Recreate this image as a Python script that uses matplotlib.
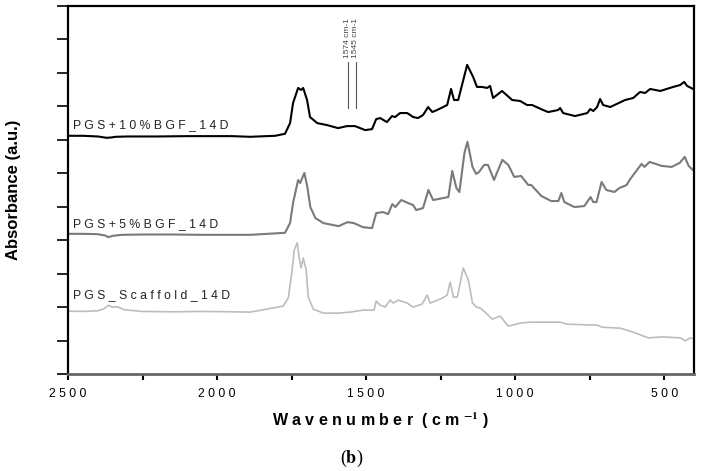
import numpy as np
import matplotlib
matplotlib.use("Agg")
import matplotlib.pyplot as plt

plt.rcParams['font.family'] = ['Liberation Sans', 'DejaVu Sans']
plt.rcParams['mathtext.fontset'] = 'stix'

# =====================================================
# DATA (offsets included)
# =====================================================

wn_10 = [2500, 2450, 2400, 2370, 2355, 2340, 2300, 2200, 2100, 2000, 1950, 1889,
         1805, 1772, 1755, 1745, 1728, 1718, 1711, 1698, 1688, 1664, 1631, 1594,
         1564, 1537, 1503, 1480, 1466, 1453, 1430, 1413, 1403, 1386, 1362, 1342,
         1326, 1309, 1292, 1278, 1262, 1228, 1215, 1205, 1191, 1161, 1141, 1128,
         1111, 1094, 1084, 1074, 1044, 1010, 983, 960, 943, 906, 889, 856, 849,
         839, 799, 758, 748, 738, 725, 715, 705, 681, 631, 604, 581, 564, 547,
         513, 470, 446, 433, 423, 403]
abs_10 = [7.12, 7.12, 7.10, 7.06, 7.07, 7.09, 7.10, 7.10, 7.11, 7.11, 7.11, 7.09,
          7.12, 7.18, 7.50, 8.10, 8.55, 8.49, 8.55, 8.19, 7.68, 7.50, 7.44, 7.35,
          7.41, 7.41, 7.29, 7.32, 7.62, 7.65, 7.53, 7.71, 7.68, 7.80, 7.80, 7.68,
          7.65, 7.74, 7.98, 7.83, 7.89, 8.04, 8.52, 8.19, 8.19, 9.24, 8.88, 8.58,
          8.58, 8.55, 8.61, 8.25, 8.46, 8.19, 8.16, 8.04, 8.04, 7.89, 7.83, 7.89, 7.95,
          7.80, 7.71, 7.80, 7.92, 7.86, 7.98, 8.22, 8.04, 7.98, 8.19, 8.25, 8.43, 8.40, 8.52,
          8.46, 8.58, 8.64, 8.73, 8.61, 8.52]

wn_5 = [2500, 2450, 2400, 2375, 2365, 2350, 2320, 2250, 2150, 2050, 1950, 1889,
        1772, 1755, 1745, 1728, 1721, 1707, 1697, 1687, 1670, 1643, 1592, 1562,
        1541, 1511, 1480, 1466, 1443, 1426, 1412, 1402, 1382, 1359, 1342, 1332,
        1309, 1291, 1275, 1241, 1224, 1211, 1197, 1187, 1170, 1160, 1143, 1131,
        1121, 1104, 1091, 1071, 1043, 1023, 1003, 980, 956, 946, 912, 879, 855,
        845, 835, 801, 768, 747, 738, 727, 710, 694, 667, 650, 626, 616, 576,
        566, 549, 508, 475, 448, 431, 418, 404]
abs_5 = [4.19, 4.19, 4.18, 4.14, 4.09, 4.13, 4.16, 4.17, 4.17, 4.16, 4.16, 4.16,
         4.22, 4.51, 5.11, 5.80, 5.71, 6.01, 5.59, 4.99, 4.66, 4.51, 4.42, 4.54,
         4.51, 4.39, 4.36, 4.81, 4.84, 4.78, 5.08, 4.99, 5.20, 5.11, 5.05, 4.90,
         4.96, 5.50, 5.20, 5.26, 5.29, 6.07, 5.56, 5.44, 6.61, 6.94, 6.19, 5.98,
         6.04, 6.25, 6.25, 5.80, 6.40, 6.25, 5.89, 5.92, 5.65, 5.65, 5.32, 5.17, 5.17,
         5.41, 5.14, 4.99, 5.02, 5.29, 5.14, 5.14, 5.74, 5.50, 5.44, 5.56, 5.65, 5.80, 6.28,
         6.19, 6.34, 6.22, 6.19, 6.31, 6.49, 6.22, 6.10]

wn_sc = [2500, 2450, 2400, 2380, 2365, 2350, 2335, 2310, 2250, 2150, 2050, 1950,
         1889, 1778, 1761, 1748, 1741, 1731, 1725, 1718, 1711, 1701, 1694, 1677,
         1643, 1596, 1553, 1510, 1473, 1466, 1453, 1436, 1419, 1409, 1392, 1362,
         1342, 1312, 1295, 1285, 1244, 1228, 1218, 1207, 1194, 1174, 1157, 1143,
         1130, 1117, 1101, 1077, 1050, 1023, 983, 950, 849, 826, 725, 708, 647,
         604, 553, 506, 446, 429, 413, 400]
abs_sc = [1.88, 1.87, 1.89, 1.95, 2.05, 2.00, 2.01, 1.92, 1.87, 1.86, 1.87, 1.86,
          1.85, 2.03, 2.27, 3.11, 3.71, 3.92, 3.50, 3.17, 3.47, 3.11, 2.30, 1.94,
          1.82, 1.82, 1.85, 1.91, 1.91, 2.18, 2.06, 2.00, 2.21, 2.12, 2.21, 2.12,
          2.00, 2.09, 2.36, 2.12, 2.27, 2.36, 2.75, 2.30, 2.30, 3.17, 2.81, 2.12,
          2.00, 1.97, 1.85, 1.64, 1.73, 1.43, 1.52, 1.55, 1.55, 1.49, 1.46, 1.40, 1.37,
          1.25, 1.08, 1.11, 1.08, 0.99, 1.08, 1.05]

sample_names = ["PGS+10%BGF_14D", "PGS+5%BGF_14D", "PGS_Scaffold_14D"]
label_y = [7.35, 4.39, 2.27]

band_pos = [1561, 1534]
band_labels = ["1574 cm-1", "1545 cm-1"]

x_major = [2500, 2000, 1500, 1000, 500]
x_minor = [2250, 1750, 1250, 750]

# =====================================================
# PLOT
# =====================================================

fig = plt.figure(figsize=(7.03, 4.71), dpi=100)
ax = fig.add_axes([0.0967, 0.2059, 0.8905, 0.7814])

ax.plot(wn_sc, abs_sc, color='#bdbdbd', lw=1.2)
ax.plot(wn_5, abs_5, color='#7a7a7a', lw=1.5)
ax.plot(wn_10, abs_10, color='black', lw=1.5)

for name, y in zip(sample_names, label_y):
    ax.text(2483, y, " ".join(name), fontsize=8.8, color='#222222',
            va='baseline', ha='left')

# marker lines for the two bands
for pos, lab in zip(band_pos, band_labels):
    ax.plot([pos, pos], [7.95, 9.33], color='#555555', lw=0.8)
    ax.text(pos, 9.45, lab, rotation=90, fontsize=6, color='#444444',
            ha='center', va='bottom')

ax.set_xlim(2500, 400)
ax.set_ylim(0, 11)

ax.set_xticks(x_major)
ax.set_xticklabels([" ".join(str(v)) for v in x_major])
ax.set_xticks(x_minor, minor=True)
ax.set_yticks(np.arange(0, 12))
ax.set_yticklabels([])

ax.tick_params(axis='x', which='both', direction='out', length=4, width=1.5,
               pad=6, labelsize=8.8)
ax.tick_params(axis='y', direction='out', length=8, width=1.2)

for side in ['left', 'right', 'top']:
    ax.spines[side].set_color('black')
    ax.spines[side].set_linewidth(1.6)
ax.spines['bottom'].set_color('#666666')
ax.spines['bottom'].set_linewidth(2)

ax.set_xlabel("W a v e n u m b e r  ( c m $^{\\mathbf{-1}}$ )",
              fontsize=11.5, fontweight='bold', labelpad=8)
ax.set_ylabel("Absorbance (a.u.)", fontsize=12, fontweight='bold', labelpad=22)

fig.text(352 / 703, 1 - 458 / 471, r"($\mathbf{b}$)", fontsize=13,
         family='Liberation Serif', ha='center', va='center')

plt.savefig("out.png", dpi=100)
